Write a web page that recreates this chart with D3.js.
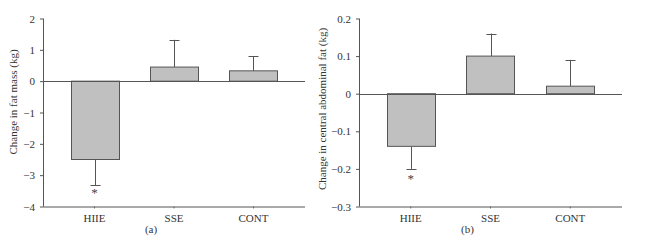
<!DOCTYPE html>
<html>
<head>
<meta charset="utf-8">
<script src="https://cdn.jsdelivr.net/npm/d3@7"></script>
<style>
  body { margin: 0; background: #fff; }
  text { font-family: "Liberation Serif", "DejaVu Serif", serif; fill: #333; }
</style>
</head>
<body>
<div id="chart-area"></div>
<script>
var groups = ["HIIE", "SSE", "CONT"];

var fatMass = [-2.5, 0.45, 0.33];
var fatMassErr = [0.82, 0.87, 0.47];
var fatMassTicks = [2, 1, 0, -1, -2, -3, -4];

var abdFat = [-0.14, 0.10, 0.02];
var abdFatErr = [0.06, 0.06, 0.07];
var abdFatTicks = [0.2, 0.1, 0, -0.1, -0.2, -0.3];

var svg = d3.select("#chart-area")
    .append("svg")
    .attr("width", 645)
    .attr("height", 250);

function panel(opts) {
    var g = svg.append("g");

    var x = d3.scaleBand()
        .domain(groups)
        .range([opts.left, opts.right])
        .paddingInner(0.396)
        .paddingOuter(0.346);

    var y = d3.scaleLinear()
        .domain(opts.domain)
        .range([206.5, 18.5]);

    // y axis
    var yAxis = d3.axisLeft(y)
        .tickValues(opts.ticks)
        .tickSize(3)
        .tickPadding(5)
        .tickFormat(function(d) {
            return d3.format(opts.fmt)(d).replace("-", "\u2212");
        });

    var yg = g.append("g")
        .attr("transform", "translate(" + opts.left + ",0)")
        .call(yAxis);
    yg.select(".domain").remove();
    yg.append("line")
        .attr("x1", 0.5).attr("x2", 0.5)
        .attr("y1", y(opts.domain[1])).attr("y2", y(opts.domain[0]))
        .attr("stroke", "#555");
    yg.selectAll(".tick line").attr("stroke", "#555");
    yg.selectAll(".tick text")
        .attr("font-size", "11px")
        .style("font-family", "'Liberation Serif', serif")
        .attr("fill", "#333");

    // bottom axis
    var xAxis = d3.axisBottom(x)
        .tickSize(2)
        .tickPadding(6);
    var xg = g.append("g")
        .attr("transform", "translate(0," + y(opts.domain[0]) + ")")
        .call(xAxis);
    xg.select(".domain").remove();
    xg.append("line")
        .attr("x1", opts.left).attr("x2", opts.right)
        .attr("y1", 0.5).attr("y2", 0.5)
        .attr("stroke", "#555");
    xg.selectAll(".tick line").attr("stroke", "#777");
    xg.selectAll(".tick text")
        .attr("font-size", "11px")
        .style("font-family", "'Liberation Serif', serif")
        .attr("fill", "#333");

    // error bars (away from zero, from the bar end)
    var err = g.append("g");
    groups.forEach(function(name, i) {
        var v = opts.values[i];
        var e = opts.errors[i];
        var cx = Math.round(x(name) + x.bandwidth() / 2) + 0.5;
        var end = v < 0 ? v - e : v + e;
        err.append("line")
            .attr("x1", cx).attr("x2", cx)
            .attr("y1", y(v)).attr("y2", y(end))
            .attr("stroke", "#555");
        err.append("line")
            .attr("x1", cx - 5).attr("x2", cx + 5)
            .attr("y1", Math.round(y(end)) + 0.5).attr("y2", Math.round(y(end)) + 0.5)
            .attr("stroke", "#555");
    });

    // bars
    g.selectAll("rect.bar")
        .data(opts.values)
        .enter()
        .append("rect")
        .attr("class", "bar")
        .attr("x", function(d, i) { return Math.round(x(groups[i])) + 0.5; })
        .attr("y", function(d) { return Math.min(y(d), y(0)); })
        .attr("width", Math.round(x.bandwidth()))
        .attr("height", function(d) { return Math.abs(y(d) - y(0)); })
        .attr("fill", "#c0c0c0")
        .attr("stroke", "#555")
        .attr("stroke-width", 1);

    // zero line
    g.append("line")
        .attr("x1", opts.left).attr("x2", opts.right)
        .attr("y1", Math.round(y(0)) + 0.5).attr("y2", Math.round(y(0)) + 0.5)
        .attr("stroke", "#555");

    // significance marker
    var hx = x("HIIE") + x.bandwidth() / 2;
    g.append("text")
        .attr("x", hx)
        .attr("y", y(opts.values[0] - opts.errors[0]) + opts.starDy)
        .attr("text-anchor", "middle")
        .attr("font-size", "13px")
        .style("fill", "#444")
        .text("*");

    // y label
    g.append("text")
        .attr("transform", "translate(" + opts.titleX + "," + opts.titleY + ") rotate(-90)")
        .attr("text-anchor", "middle")
        .attr("font-size", "11px")
        .text(opts.title);

    // panel letter
    g.append("text")
        .attr("x", x("SSE") + x.bandwidth() / 2 - 23)
        .attr("y", 233)
        .attr("text-anchor", "middle")
        .attr("font-size", "11px")
        .text(opts.letter);
}

panel({
    left: 43, right: 305,
    domain: [-4, 2],
    ticks: fatMassTicks,
    fmt: "d",
    values: fatMass,
    errors: fatMassErr,
    title: "Change in fat mass (kg)",
    titleX: 17, titleY: 102,
    starDy: 12,
    letter: "(a)"
});

panel({
    left: 359, right: 622,
    domain: [-0.3, 0.2],
    ticks: abdFatTicks,
    fmt: ".1~f",
    values: abdFat,
    errors: abdFatErr,
    title: "Change in central abdominal fat (kg)",
    titleX: 326, titleY: 109,
    starDy: 14,
    letter: "(b)"
});
</script>
</body>
</html>
